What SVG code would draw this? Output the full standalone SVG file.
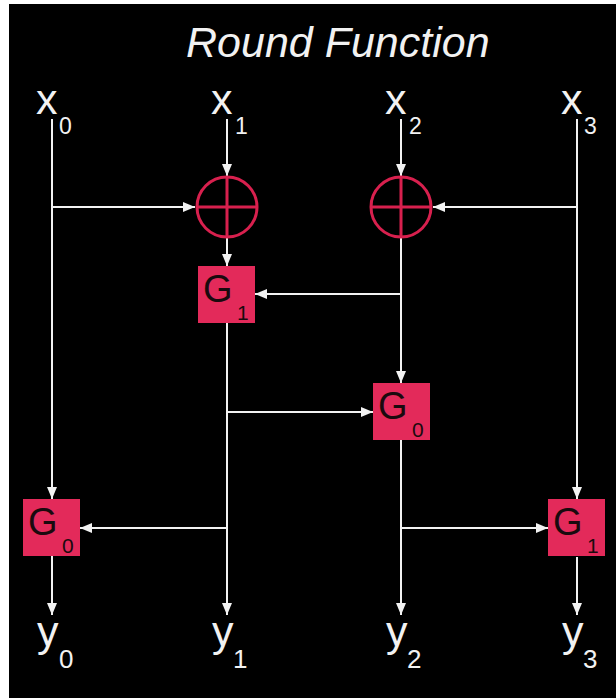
<svg xmlns="http://www.w3.org/2000/svg" width="616" height="698" viewBox="0 0 616 698">
<defs>
<marker id="ah" markerUnits="userSpaceOnUse" markerWidth="13" markerHeight="11" refX="12" refY="5" orient="auto">
<path d="M0,0 L12,5 L0,10 z" fill="#f2f2f2"/>
</marker>
<style>
.w{font-family:"Liberation Sans",Arial,sans-serif;fill:#f2f2f2}
.big{font-size:43px}
.xs{font-size:23px}
.ys{font-size:26px}
.title{font-size:43px;font-style:italic}
.box{fill:#e32a5a}
.gl{font-family:"Liberation Sans",Arial,sans-serif;fill:#1a0a0e;font-size:38px}
.gs{font-family:"Liberation Sans",Arial,sans-serif;fill:#1a0a0e;font-size:21px}
.xor{fill:none;stroke:#d8204e;stroke-width:3}
.c{fill:none;stroke:#f2f2f2;stroke-width:2}
.a{marker-end:url(#ah)}
</style>
</defs>
<rect x="0" y="0" width="616" height="698" fill="#ffffff"/>
<rect x="9" y="4" width="607" height="694" fill="#000000"/>
<text class="w title" x="186" y="57">Round Function</text>

<g id="x0"><text class="w big" x="36" y="114">x</text><text class="w xs" x="59" y="134">0</text></g>
<g id="x1"><text class="w big" x="211" y="114">x</text><text class="w xs" x="235" y="134">1</text></g>
<g id="x2"><text class="w big" x="385" y="114">x</text><text class="w xs" x="409" y="134">2</text></g>
<g id="x3"><text class="w big" x="561" y="114">x</text><text class="w xs" x="584" y="134">3</text></g>

<g id="connectors">
<line class="c a" x1="52" y1="119" x2="52" y2="499"/>
<line class="c a" x1="52" y1="207" x2="195" y2="207"/>
<line class="c a" x1="227" y1="119" x2="227" y2="176"/>
<line class="c a" x1="227" y1="238" x2="227" y2="266"/>
<line class="c a" x1="227" y1="323" x2="227" y2="615"/>
<line class="c a" x1="227" y1="412" x2="373" y2="412"/>
<line class="c a" x1="227" y1="528" x2="80" y2="528"/>
<line class="c a" x1="401" y1="119" x2="401" y2="176"/>
<line class="c a" x1="401" y1="238" x2="401" y2="383"/>
<line class="c a" x1="401" y1="294" x2="255" y2="294"/>
<line class="c a" x1="401" y1="440" x2="401" y2="615"/>
<line class="c a" x1="401" y1="528" x2="548" y2="528"/>
<line class="c a" x1="577" y1="119" x2="577" y2="499"/>
<line class="c a" x1="577" y1="207" x2="433" y2="207"/>
<line class="c a" x1="52" y1="556" x2="52" y2="615"/>
<line class="c a" x1="577" y1="557" x2="577" y2="615"/>
</g>

<g id="xor1"><circle class="xor" cx="227" cy="207" r="30"/><line class="xor" x1="197" y1="207" x2="257" y2="207"/><line class="xor" x1="227" y1="177" x2="227" y2="237"/></g>
<g id="xor2"><circle class="xor" cx="401" cy="207" r="30"/><line class="xor" x1="371" y1="207" x2="431" y2="207"/><line class="xor" x1="401" y1="177" x2="401" y2="237"/></g>

<g id="g1a"><rect class="box" x="198" y="266" width="57" height="57"/><text class="gl" x="203" y="302">G</text><text class="gs" x="237" y="320">1</text></g>
<g id="g0b"><rect class="box" x="373" y="383" width="57" height="57"/><text class="gl" x="378" y="419">G</text><text class="gs" x="412" y="437">0</text></g>
<g id="g0a"><rect class="box" x="23" y="499" width="57" height="57"/><text class="gl" x="28" y="535">G</text><text class="gs" x="62" y="553">0</text></g>
<g id="g1b"><rect class="box" x="548" y="499" width="57" height="57"/><text class="gl" x="553" y="535">G</text><text class="gs" x="587" y="553">1</text></g>

<g id="y0"><text class="w big" x="37" y="646">y</text><text class="w ys" x="59" y="668">0</text></g>
<g id="y1"><text class="w big" x="212" y="646">y</text><text class="w ys" x="233" y="668">1</text></g>
<g id="y2"><text class="w big" x="386" y="646">y</text><text class="w ys" x="407" y="668">2</text></g>
<g id="y3"><text class="w big" x="562" y="646">y</text><text class="w ys" x="583" y="668">3</text></g>
</svg>
